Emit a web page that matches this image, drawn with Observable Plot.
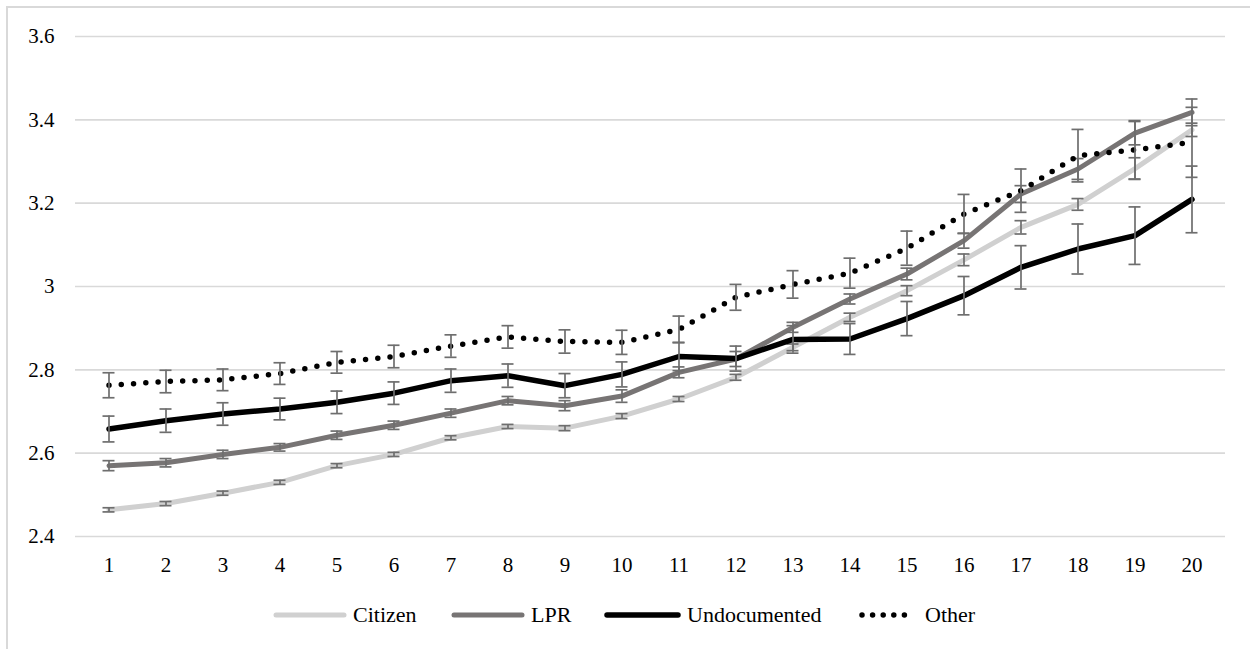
<!DOCTYPE html>
<html>
<head>
<meta charset="utf-8">
<script src="https://cdn.jsdelivr.net/npm/d3@7"></script>
<script src="https://cdn.jsdelivr.net/npm/@observablehq/plot@0.6"></script>
<style>
  body { margin: 0; background: #fff; }
  #wrap { position: relative; width: 1250px; height: 649px; overflow: hidden; background: #fff; font-family: "Liberation Serif", "DejaVu Serif", "Times New Roman", Times, serif; }
  #frame { position: absolute; left: 6px; top: 6px; width: 1400px; height: 800px; border-left: 2px solid #d9d9d9; border-top: 2px solid #d9d9d9; }
  #chart { position: absolute; left: 0; top: 0; }
  #chart svg text { font-family: "Liberation Serif", "DejaVu Serif", "Times New Roman", Times, serif; }
  #legend { position: absolute; left: 0; top: 601px; width: 1250px; height: 28px; font-size: 22px; line-height: 28px; color: #000; }
  .item { position: absolute; top: 0; display: flex; align-items: center; white-space: nowrap; }
  .item svg { margin-right: 6px; }
</style>
</head>
<body>
<div id="wrap">
  <div id="frame"></div>
  <div id="chart"></div>
  <div id="legend"></div>
</div>
<script>
// ---- data ----
const grades = [1, 2, 3, 4, 5, 6, 7, 8, 9, 10, 11, 12, 13, 14, 15, 16, 17, 18, 19, 20];
const yTicks = [2.4, 2.6, 2.8, 3, 3.2, 3.4, 3.6];
const seriesNames = ["Citizen", "LPR", "Undocumented", "Other"];

const citizen = [2.464, 2.479, 2.504, 2.530, 2.570, 2.597, 2.637, 2.664, 2.660, 2.689,
                 2.730, 2.782, 2.854, 2.926, 2.990, 3.064, 3.142, 3.197, 3.283, 3.376];
const citizenErr = [0.005, 0.005, 0.005, 0.005, 0.005, 0.005, 0.005, 0.005, 0.006, 0.006,
                    0.006, 0.007, 0.008, 0.010, 0.012, 0.014, 0.016, 0.014, 0.026, 0.016];

const lpr = [2.570, 2.577, 2.597, 2.614, 2.643, 2.667, 2.696, 2.726, 2.714, 2.737,
             2.794, 2.826, 2.902, 2.970, 3.030, 3.110, 3.222, 3.282, 3.368, 3.418];
const lprErr = [0.012, 0.010, 0.010, 0.009, 0.010, 0.010, 0.010, 0.010, 0.012, 0.015,
                0.013, 0.018, 0.012, 0.012, 0.014, 0.018, 0.020, 0.025, 0.028, 0.032];

const undocumented = [2.658, 2.678, 2.694, 2.706, 2.722, 2.744, 2.774, 2.786, 2.762, 2.789,
                      2.832, 2.827, 2.873, 2.874, 2.923, 2.978, 3.046, 3.090, 3.122, 3.209];
const undocumentedErr = [0.031, 0.028, 0.027, 0.026, 0.027, 0.027, 0.028, 0.028, 0.029, 0.030,
                         0.034, 0.030, 0.033, 0.037, 0.041, 0.046, 0.052, 0.060, 0.069, 0.080];

const other = [2.763, 2.772, 2.776, 2.791, 2.818, 2.832, 2.857, 2.879, 2.868, 2.866,
               2.897, 2.974, 3.005, 3.032, 3.092, 3.174, 3.230, 3.314, 3.328, 3.346];
const otherErr = [0.030, 0.027, 0.026, 0.026, 0.026, 0.027, 0.027, 0.027, 0.028, 0.029,
                  0.032, 0.031, 0.033, 0.036, 0.041, 0.047, 0.052, 0.063, 0.070, 0.084];

const values = [citizen, lpr, undocumented, other];
const errors = [citizenErr, lprErr, undocumentedErr, otherErr];

// ---- styles ----
const fontStack = '"Liberation Serif", "DejaVu Serif", "Times New Roman", Times, serif';
const styles = {
  Citizen: {stroke: "#d0d0d0", strokeWidth: 5},
  LPR: {stroke: "#777474", strokeWidth: 5},
  Undocumented: {stroke: "#000000", strokeWidth: 5.5},
  Other: {stroke: "#000000", strokeWidth: 5.5, strokeDasharray: "0 12.3", strokeLinecap: "round"}
};
const errColor = "#6e6e6e";
// legend layout (left edge of each legend entry, swatch width)
const legendLayout = {
  Citizen: {left: 273, w: 74},
  LPR: {left: 451, w: 74},
  Undocumented: {left: 604, w: 77},
  Other: {left: 857, w: 62}
};

// ---- build rows ----
const rows = seriesNames.map((name, s) =>
  grades.map((g, i) => ({series: name, grade: g, value: values[s][i], lo: values[s][i] - errors[s][i], hi: values[s][i] + errors[s][i]}))
);

const marks = [
  Plot.gridY(yTicks, {stroke: "#d9d9d9", strokeOpacity: 1, strokeWidth: 1.6})
];
seriesNames.forEach((name, s) => {
  const st = styles[name];
  marks.push(Plot.line(rows[s], {
    x: "grade", y: "value",
    stroke: st.stroke, strokeWidth: st.strokeWidth,
    strokeLinejoin: "round", strokeLinecap: st.strokeLinecap || "round",
    strokeDasharray: st.strokeDasharray
  }));
  marks.push(Plot.ruleX(rows[s], {x: "grade", y1: "lo", y2: "hi", stroke: errColor, strokeWidth: 1.7}));
  marks.push(Plot.tickY(rows[s], {x: "grade", y: "lo", stroke: errColor, strokeWidth: 1.7, insetLeft: 22.5, insetRight: 22.5}));
  marks.push(Plot.tickY(rows[s], {x: "grade", y: "hi", stroke: errColor, strokeWidth: 1.7, insetLeft: 22.5, insetRight: 22.5}));
});

const chart = Plot.plot({
  width: 1250,
  height: 590,
  marginLeft: 75,
  marginRight: 25,
  marginTop: 36,
  marginBottom: 54,
  style: {background: "transparent", fontFamily: fontStack, fontSize: "21px", color: "#000"},
  x: {type: "band", domain: grades, padding: 0, label: null},
  y: {domain: [2.4, 3.6], label: null},
  marks: [
    ...marks,
    Plot.axisX({tickSize: 0, tickPadding: 21, label: null, fontFamily: fontStack}),
    Plot.axisY(yTicks, {tickSize: 0, tickPadding: 21, label: null, fontFamily: fontStack, tickFormat: d => String(+d.toFixed(1))})
  ]
});
document.getElementById("chart").appendChild(chart);

// ---- legend ----
const legend = d3.select("#legend");
seriesNames.forEach(name => {
  const st = styles[name];
  const lay = legendLayout[name];
  const item = legend.append("div").attr("class", "item").style("left", lay.left + "px");
  const svg = item.append("svg").attr("width", lay.w).attr("height", 12);
  svg.append("line")
    .attr("x1", name === "Other" ? 5 : 3).attr("x2", name === "Other" ? 58 : lay.w - 3)
    .attr("y1", 6).attr("y2", 6)
    .attr("stroke", st.stroke)
    .attr("stroke-width", st.strokeWidth)
    .attr("stroke-linecap", "round")
    .attr("stroke-dasharray", name === "Other" ? "0 10.6" : null);
  item.append("span").text(name);
});
</script>
</body>
</html>
